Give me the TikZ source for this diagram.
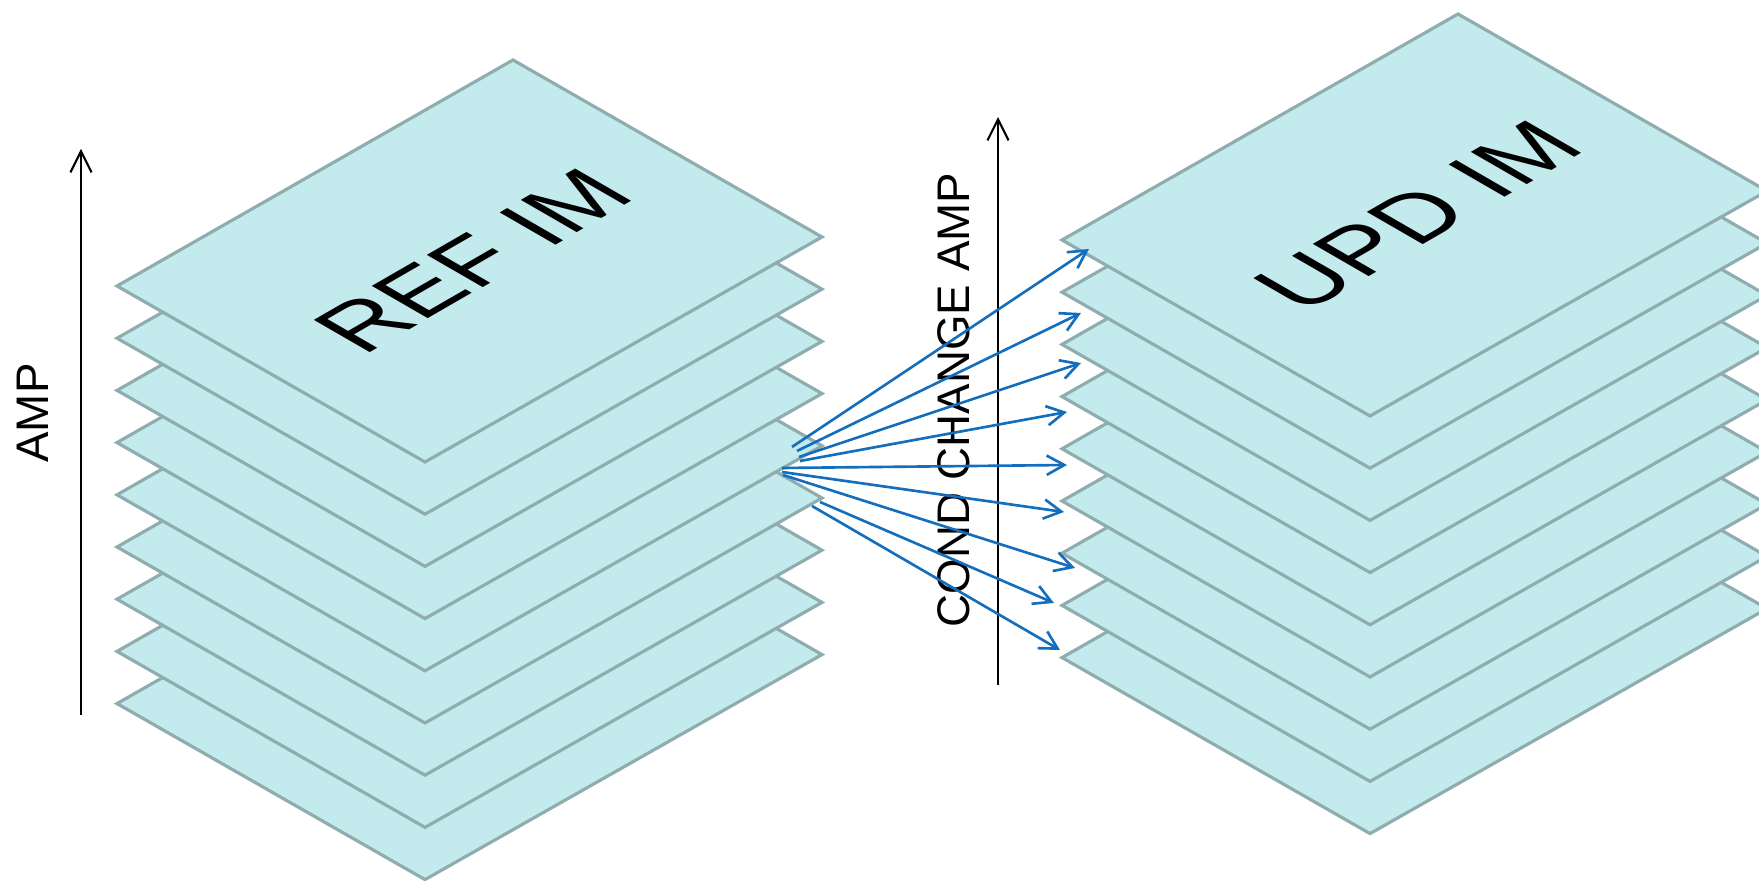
\documentclass[tikz,border=0pt]{standalone}
\usepackage{fontspec}
\setmainfont{Liberation Sans}
\usetikzlibrary{arrows.meta}

\definecolor{laycyan}{RGB}{195,234,237}
\definecolor{laygray}{RGB}{143,173,175}
\definecolor{chgblue}{RGB}{20,110,190}

\begin{document}
\begin{tikzpicture}[x=0.1mm, y=-0.1mm,
  layer/.style = {draw=laygray, fill=laycyan, line width=0.9pt},
  axis/.style = {line width=0.6pt, -{Straight Barb[length=6pt,width=6pt]}},
  chg/.style = {chgblue, line width=0.75pt, -{Straight Barb[length=5pt,width=5.5pt]}},
  lab/.style = {font=\fontsize{13}{15}\selectfont, inner sep=0pt},
  stacktitle/.style = {font=\fontsize{26.7}{30}\selectfont, inner sep=0pt,
    transform shape, cm={0.866,0.5,-0.866,0.5,(0,0)}}]
  \useasboundingbox (0,0) rectangle (1759,881);

  % reference stack, bottom layer first
  \foreach \k in {8,...,0}
    \draw[layer, shift={(0,52.2*\k)}] (117,286) -- (513,60) -- (822,237) -- (425,462) -- cycle;
  \coordinate (refc) at (473,261);
  \node[stacktitle] (refim) at (refc) {REF IM};

  % updated stack
  \foreach \k in {8,...,0}
    \draw[layer, shift={(945,52.2*\k-46)}] (117,286) -- (513,60) -- (822,237) -- (425,462) -- cycle;
  \coordinate (updc) at (1418,216);
  \node[stacktitle] (updim) at (updc) {UPD IM};

  % axes
  \coordinate (amp0) at (81,715);
  \coordinate (amp1) at (81,149);
  \draw[axis] (amp0) -- (amp1);
  \node[lab, rotate=90] (amp) at (33,413) {AMP};
  \coordinate (cca0) at (998,685);
  \coordinate (cca1) at (998,117);
  \draw[axis] (cca0) -- (cca1);
  \node[lab, rotate=90] (cca) at (954,400) {COND CHANGE AMP};

  % changes
  \foreach \i/\sx/\sy/\ex/\ey in {1/792/447/1089/249, 2/797/451/1081/313,
      3/799/457/1081/363, 4/800/461/1067/412, 5/782/468/1067/465,
      6/782/472/1064/512, 7/783/475/1075/568, 8/820/502/1054/603,
      9/812/506/1060/650} {
    \coordinate (s\i) at (\sx,\sy);
    \coordinate (e\i) at (\ex,\ey);
    \draw[chg] (s\i) -- (e\i);
  }
\end{tikzpicture}
\end{document}
